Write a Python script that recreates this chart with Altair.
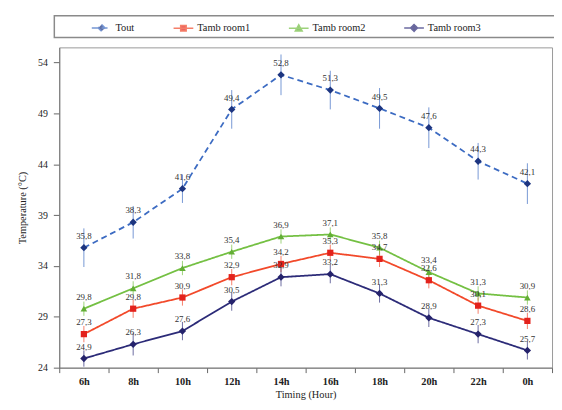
import altair as alt
import pandas as pd

hours = ["6h", "8h", "10h", "12h", "14h", "16h", "18h", "20h", "22h", "0h"]
series_names = ["Tout", "Tamb room1", "Tamb room2", "Tamb room3"]

tout = [35.8, 38.3, 41.6, 49.4, 52.8, 51.3, 49.5, 47.6, 44.3, 42.1]
room1 = [27.3, 29.8, 30.9, 32.9, 34.2, 35.3, 34.7, 32.6, 30.1, 28.6]
room2 = [29.8, 31.8, 33.8, 35.4, 36.9, 37.1, 35.8, 33.4, 31.3, 30.9]
room3 = [24.9, 26.3, 27.6, 30.5, 32.9, 33.2, 31.3, 28.9, 27.3, 25.7]

tout_err = [1.9, 1.6, 1.4, 1.9, 2.0, 1.9, 2.0, 2.0, 1.8, 2.0]
room1_err = [0.8, 0.9, 0.8, 0.8, 0.8, 0.8, 0.8, 0.8, 0.8, 0.8]
room2_err = [0.7, 0.7, 0.7, 0.7, 0.7, 0.7, 0.7, 0.7, 0.7, 0.7]
room3_err = [0.8, 1.1, 0.9, 0.9, 0.9, 0.9, 0.9, 0.9, 0.9, 0.9]

line_colors = ["#3C6BC2", "#F2492A", "#74C043", "#2C2B78"]
marker_colors = ["#1D3580", "#E3221C", "#63AE35", "#25236C"]
dashes = [[6, 4], [1, 0], [1, 0], [1, 0]]
legend_paths = [
    "M-1,0L1,0M0,-0.35L0.35,0L0,0.35L-0.35,0Z",
    "M-1,0L1,0M-0.28,-0.28L0.28,-0.28L0.28,0.28L-0.28,0.28Z",
    "M-1,0L1,0M0,-0.35L0.35,0.28L-0.35,0.28Z",
    "M-1,0L1,0M0,-0.35L0.35,0L0,0.35L-0.35,0Z",
]

rows = []
for name, vals, errs in zip(series_names, [tout, room1, room2, room3],
                            [tout_err, room1_err, room2_err, room3_err]):
    for i, (h, v, e) in enumerate(zip(hours, vals, errs)):
        rows.append({"hour": h, "idx": i, "series": name, "value": v,
                     "lo": v - e, "hi": v + e,
                     "label": f"{v:.1f}".replace(".", ",")})
df = pd.DataFrame(rows)

FONT = "Liberation Serif"

x = alt.X("hour:N", sort=hours,
          scale=alt.Scale(type="band", domain=hours, paddingInner=0, paddingOuter=0),
          axis=alt.Axis(title="Timing (Hour)", labelAngle=0, tickBand="extent",
                        tickSize=5, labelPadding=4, titlePadding=3,
                        labelFontWeight="bold", labelFontSize=10.5))
y = alt.Y("value:Q",
          scale=alt.Scale(domain=[24, 55.5], nice=False, zero=False),
          axis=alt.Axis(title="Temperature (°C)", values=[24, 29, 34, 39, 44, 49, 54],
                        tickSize=6, labelPadding=6, titlePadding=10, grid=False))

stroke_scale = alt.Scale(domain=series_names, range=line_colors)
fill_scale = alt.Scale(domain=series_names, range=marker_colors)

frame = alt.Chart(pd.DataFrame({"k": [0]})).mark_rect(
    fill="white", fillOpacity=0, stroke="#8a8a8a", strokeWidth=1.5
).encode(x=alt.value(-5), x2=alt.value(515), y=alt.value(-32), y2=alt.value(-10))

errs = alt.Chart(df).mark_rule(strokeWidth=1, opacity=0.7).encode(
    x=x, y="lo:Q", y2="hi:Q",
    stroke=alt.Stroke("series:N", scale=stroke_scale))

lines = alt.Chart(df).mark_line(strokeWidth=1.8).encode(
    x=x, y=y,
    stroke=alt.Stroke("series:N", scale=stroke_scale),
    strokeDash=alt.StrokeDash("series:N", scale=alt.Scale(domain=series_names, range=dashes), legend=None),
    order=alt.Order("idx:Q"))

def pts(names, shape, size):
    return alt.Chart(df).transform_filter(
        alt.FieldOneOfPredicate(field="series", oneOf=names)
    ).mark_point(shape=shape, filled=True, size=size, opacity=1).encode(
        x=x, y=y, fill=alt.Fill("series:N", scale=fill_scale))

pts_d = pts(["Tout", "Tamb room3"], "diamond", 55)
pts_s = pts(["Tamb room1"], "square", 40)
pts_t = pts(["Tamb room2"], "triangle-up", 45)

texts = alt.Chart(df).mark_text(font=FONT, fontSize=9, dy=-12, color="#333").encode(
    x=x, y=y, text="label:N")

leg = alt.Legend(orient="none", legendX=32, legendY=-31, direction="horizontal",
                 columns=4, columnPadding=36, title=None, labelFont=FONT,
                 labelFontSize=10.5, labelColor="#222", symbolSize=400,
                 symbolStrokeWidth=1.5, labelOffset=3, padding=0)

legend_layer = alt.Chart(df).transform_filter("false").mark_point(
    filled=True, opacity=1, strokeWidth=1.5).encode(
    x=x, y=y,
    fill=alt.Fill("series:N", scale=fill_scale, legend=leg),
    stroke=alt.Stroke("series:N", scale=stroke_scale, legend=leg),
    shape=alt.Shape("series:N", scale=alt.Scale(domain=series_names, range=legend_paths), legend=leg))

chart = alt.layer(frame, errs, lines, pts_d, pts_s, pts_t, texts, legend_layer).properties(
    width=500, height=325,
    autosize=alt.AutoSizeParams(type="none"),
    padding={"left": 52, "top": 37, "right": 2, "bottom": 40},
    background="white",
).configure(font=FONT).configure_axis(
    labelFont=FONT, titleFont=FONT, labelFontSize=10, titleFontSize=10.5,
    titleFontWeight="normal", labelColor="#222", titleColor="#222",
    domainColor="#777", tickColor="#666", grid=False,
).configure_legend(
    labelFont=FONT, labelFontSize=10.5, labelColor="#222",
).configure_view(stroke="#999")

chart.save("out.html", embed_options={"renderer": "svg", "actions": False})
